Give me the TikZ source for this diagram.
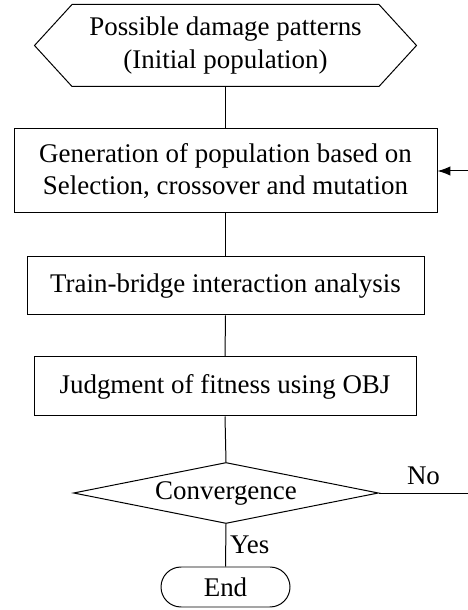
\documentclass[tikz,border=0pt]{standalone}
\usepackage{fontspec}
\setmainfont{Liberation Serif}
\usetikzlibrary{shapes.geometric,arrows.meta}
\begin{document}
\begin{tikzpicture}[font=\fontsize{23}{28}\selectfont, line width=0.85pt,
        box/.style={draw, rectangle, align=center},
        decision/.style={draw, diamond, aspect=5, inner sep=0pt},
        terminal/.style={draw, rectangle, rounded corners=0.6cm}]
        \useasboundingbox (0,0) rectangle (14.04,18.3);
        \node[align=center, minimum width=9.18cm, minimum height=2.43cm] (start) at (6.765,16.935) {Possible damage patterns\\(Initial population)};
        \draw ([xshift=-1.125cm]start.west) -- (start.north west) -- (start.north east) -- ([xshift=1.125cm]start.east) -- (start.south east) -- (start.south west) -- cycle;
        \node[box, minimum width=12.69cm, minimum height=2.52cm] (gen) at (6.765,13.17) {Generation of population based on\\Selection, crossover and mutation};
        \node[box, minimum width=11.91cm, minimum height=1.74cm] (train) at (6.765,9.72) {Train-bridge interaction analysis};
        \node[box, minimum width=11.46cm, minimum height=1.77cm] (judge) at (6.75,6.705) {Judgment of fitness using OBJ};
        \node[decision, minimum width=9.15cm, minimum height=1.83cm] (conv) at (6.78,3.51) {Convergence};
        \node[terminal, minimum width=3.87cm, minimum height=1.2cm] (stop) at (6.765,0.69) {End};
        \coordinate (back) at (14.04,13.17);
        \coordinate (noend) at (14.04,3.51);
        \draw (start.south) -- (gen.north);
        \draw (gen.south) -- (train.north);
        \draw (train.south) -- (judge.north);
        \draw (judge.south) -- (conv.north);
        \draw (conv.south) -- node[right]{Yes} (stop.north);
        \draw (conv.east) -- node[above=3pt]{No} (noend);
        \draw[-{Latex[length=11pt,width=8pt]}] (back) -- (gen.east);
    \end{tikzpicture}
\end{document}
